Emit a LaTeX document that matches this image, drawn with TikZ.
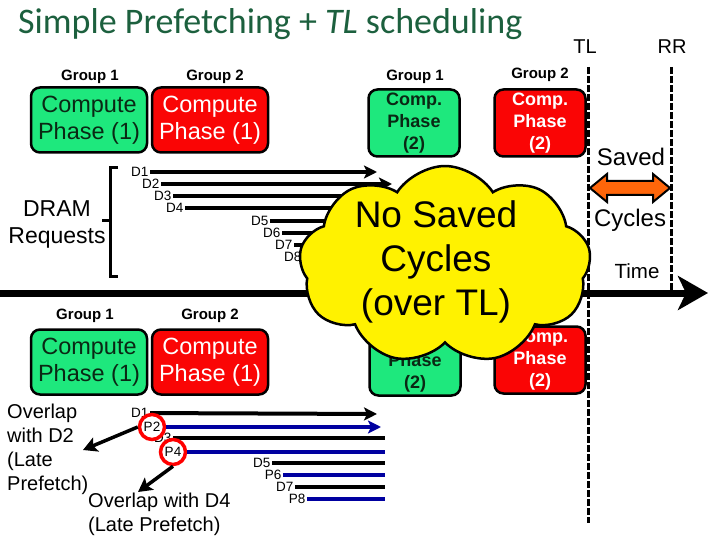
\documentclass[tikz,border=0pt]{standalone}
\usepackage{fontspec}
\setmainfont{Liberation Sans}
\newfontfamily\titlefont{Carlito}
\usepackage{tikz}
\usetikzlibrary{arrows.meta}
\usetikzlibrary{shapes.symbols}

\definecolor{titlegreen}{RGB}{28,96,62}
\definecolor{phasegreen}{RGB}{30,232,125}
\definecolor{phasetext}{RGB}{10,40,20}
\definecolor{phasered}{RGB}{250,5,5}
\definecolor{reqblue}{RGB}{0,0,160}
\definecolor{savedorange}{RGB}{255,102,10}

\tikzset{
  grouptext/.style={font=\fontsize{15}{15}\selectfont\bfseries, inner sep=0pt},
  phasebox/.style={draw=black, line width=2.5pt, rounded corners=9pt, align=center, inner sep=0pt},
  phaseone/.style={phasebox, minimum width=116pt, minimum height=65pt, font=\fontsize{23.5}{27}\selectfont},
  phasetwo/.style={phasebox, minimum width=91pt, minimum height=67pt, font=\fontsize{18}{22}\selectfont\bfseries},
  grpone/.style={fill=phasegreen, text=phasetext},
  grptwo/.style={fill=phasered, text=white},
  reqlabel/.style={font=\fontsize{13.5}{13.5}\selectfont, anchor=east, inner sep=1.5pt},
  dline/.style={line width=4pt, draw=black},
  pline/.style={line width=4pt, draw=reqblue},
  reqtip/.style={-{Stealth[length=13pt,width=13pt,inset=3pt]}},
  tlline/.style={line width=3pt, dash pattern=on 7pt off 2pt},
  latecirc/.style={circle, draw=red, line width=3.5pt, fill=white, minimum size=25pt, inner sep=0pt, font=\fontsize{13.5}{13.5}\selectfont},
  latearrow/.style={line width=3.5pt, -{Stealth[length=14pt,width=15pt,inset=3pt]}},
  sidetext/.style={inner sep=0pt, align=center}
}

\begin{document}
\begin{tikzpicture}[x=1pt, y=-1pt]

  \useasboundingbox (0,0) rectangle (720,540);

  % Title and the two schedulers
  \node[anchor=base west, inner sep=0pt, text=titlegreen,
        font=\titlefont\fontsize{36}{36}\selectfont] (title) at (18,34)
        {Simple Prefetching + \textit{TL} scheduling};
  \node[sidetext, font=\fontsize{20}{20}\selectfont] (tl) at (585,47) {TL};
  \node[sidetext, font=\fontsize{20}{20}\selectfont] (rr) at (672,47) {RR};

  \coordinate (tltop) at (588,67);
  \coordinate (tlbot) at (588,523);
  \coordinate (rrtop) at (671,67);
  \coordinate (rrbot) at (671,290);
  \draw[tlline] (tltop) -- (tlbot);
  \draw[tlline] (rrtop) -- (rrbot);

  % Upper schedule: compute phases
  \node[grouptext] (ugA) at (90,77) {Group 1};
  \node[grouptext] (ugB) at (215,77) {Group 2};
  \node[phaseone, grpone] (uphA) at (89,120) {Compute\\Phase (1)};
  \node[phaseone, grptwo] (uphB) at (210,120) {Compute\\Phase (1)};
  \node[grouptext] (ugC) at (415,77) {Group 1};
  \node[grouptext] (ugD) at (540,75) {Group 2};
  \node[phasetwo, grpone] (uphC) at (414,123) {Comp.\\Phase\\(2)};
  \node[phasetwo, grptwo] (uphD) at (540,123) {Comp.\\Phase\\(2)};

  % DRAM requests of the upper schedule
  \node[sidetext, font=\fontsize{23}{27}\selectfont] (dram) at (57,224) {DRAM\\Requests};
  \draw[line width=3pt] (118,168) -- (110,168) -- (110,276) -- (118,276);
  \draw[line width=3pt] (110,221) -- (102,221);

  \node[reqlabel] (td1) at (150,172) {D1};
  \node[reqlabel] (td2) at (161,184) {D2};
  \node[reqlabel] (td3) at (173,196) {D3};
  \node[reqlabel] (td4) at (185,208) {D4};
  \node[reqlabel] (td5) at (270,221) {D5};
  \node[reqlabel] (td6) at (282,233) {D6};
  \node[reqlabel] (td7) at (294,245) {D7};
  \node[reqlabel] (td8) at (303,257) {D8};
  \coordinate (td1end) at (377,172);
  \coordinate (td2end) at (392,184);
  \coordinate (td3end) at (400,196);
  \coordinate (td4end) at (400,208);
  \coordinate (td5end) at (400,221);
  \coordinate (td6end) at (400,233);
  \coordinate (td7end) at (400,245);
  \coordinate (td8end) at (400,257);
  \draw[dline, reqtip] (td1) -- (td1end);
  \draw[dline, reqtip] (td2) -- (td2end);
  \draw[dline] (td3) -- (td3end);
  \draw[dline] (td4) -- (td4end);
  \draw[dline] (td5) -- (td5end);
  \draw[dline] (td6) -- (td6end);
  \draw[dline] (td7) -- (td7end);
  \draw[dline] (td8) -- (td8end);

  % Saved cycles between TL and RR
  \node[sidetext, font=\fontsize{24}{24}\selectfont] (saved) at (631,157) {Saved};
  \node[sidetext, font=\fontsize{24}{24}\selectfont] (cycles) at (630,220) {Cycles};
  \draw[fill=savedorange, line width=2pt, line join=miter]
        (590,188) -- (607,174) -- (607,181) -- (653,181) -- (653,174) -- (670,188)
        -- (653,202) -- (653,195) -- (607,195) -- (607,202) -- cycle;
  \node[sidetext, font=\fontsize{20.5}{20.5}\selectfont] (time) at (637,271) {Time};

  % Time axis
  \coordinate (axisstart) at (0,293);
  \coordinate (axisend) at (708,293);
  \draw[line width=7pt, -{Stealth[length=30pt,width=34pt,inset=8pt]}] (axisstart) -- (axisend);

  % Lower schedule: compute phases
  \node[grouptext] (lgA) at (85,316) {Group 1};
  \node[grouptext] (lgB) at (210,316) {Group 2};
  \node[phaseone, grpone] (lphA) at (89,362) {Compute\\Phase (1)};
  \node[phaseone, grptwo] (lphB) at (210,362) {Compute\\Phase (1)};
  \node[grouptext] (lgC) at (415,316) {Group 1};
  \node[grouptext] (lgD) at (540,316) {Group 2};
  \node[phasetwo, grpone] (lphC) at (415,362) {Comp.\\Phase\\(2)};
  \node[phasetwo, grptwo] (lphD) at (540,360) {Comp.\\Phase\\(2)};

  % Demand and prefetch requests of the lower schedule
  \node[reqlabel] (bd1) at (150,413) {D1};
  \node[reqlabel] (bd3) at (173,438) {D3};
  \node[reqlabel] (bd5) at (272,463) {D5};
  \node[reqlabel] (bp6) at (283,475) {P6};
  \node[reqlabel] (bd7) at (295,487) {D7};
  \node[reqlabel] (bp8) at (307,499) {P8};
  \coordinate (bd1end) at (377,414);
  \coordinate (bp2end) at (381,427);
  \coordinate (bd3end) at (385,438);
  \coordinate (bp4end) at (385,452);
  \coordinate (bd5end) at (385,463);
  \coordinate (bp6end) at (385,475);
  \coordinate (bd7end) at (385,487);
  \coordinate (bp8end) at (385,499);
  \draw[dline, reqtip] (bd1) -- (bd1end);
  \draw[dline] (bd3) -- (bd3end);
  \draw[dline] (bd5) -- (bd5end);
  \draw[pline] (bp6) -- (bp6end);
  \draw[dline] (bd7) -- (bd7end);
  \draw[pline] (bp8) -- (bp8end);

  % Late prefetches
  \node[latecirc] (p2) at (152,427) {P2};
  \node[latecirc] (p4) at (173,452) {P4};
  \draw[pline, reqtip] (p2) -- (bp2end);
  \draw[pline] (p4) -- (bp4end);

  \coordinate (ov2tip) at (83,450);
  \coordinate (ov4tip) at (138,492);
  \draw[latearrow] (p2.west) -- (ov2tip);
  \draw[latearrow] (p4.south) -- (ov4tip);
  \node[anchor=west, inner sep=0pt, align=left, font=\fontsize{20}{24}\selectfont]
        (ov2) at (7,449) {Overlap\\with D2\\(Late\\Prefetch)};
  \node[anchor=west, inner sep=0pt, align=left, font=\fontsize{20}{24}\selectfont]
        (ov4) at (88,514) {Overlap with D4\\(Late Prefetch)};

  % Cloud over everything
  \node[cloud, draw=black, line width=2.5pt, fill=yellow, cloud puffs=9,
        cloud puff arc=115, aspect=1.5, minimum width=292pt, minimum height=198pt]
        (cloud) at (445,265) {};
  \node[sidetext, font=\fontsize{37}{44}\selectfont] (cloudtext) at (436,262)
        {No Saved\\Cycles\\(over TL)};

\end{tikzpicture}
\end{document}
